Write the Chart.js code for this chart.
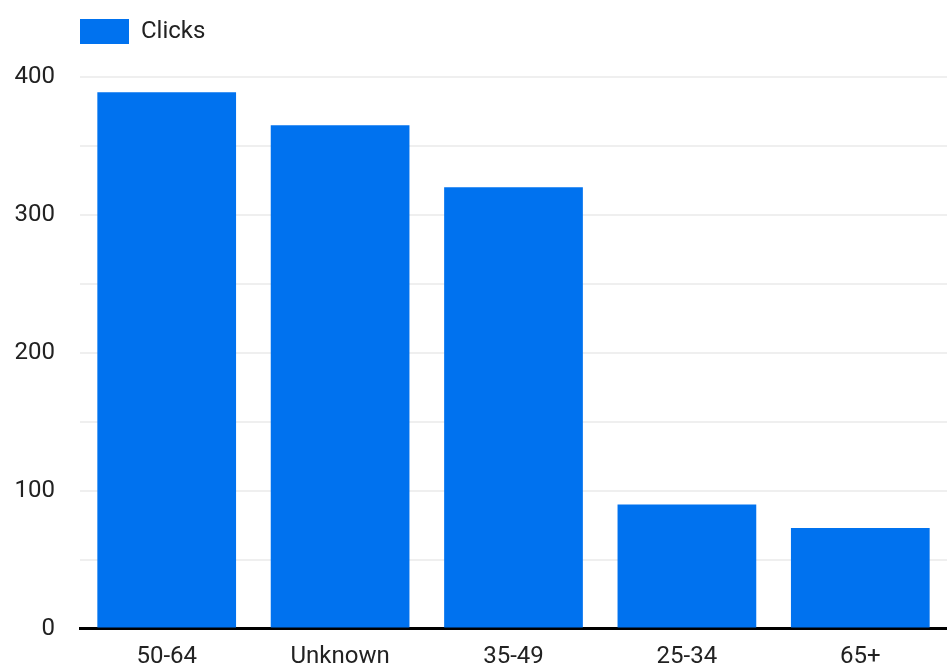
<!DOCTYPE html>
<html>
<head>
<meta charset="utf-8">
<script src="https://cdn.jsdelivr.net/npm/chart.js"></script>
<style>
  html, body { margin: 0; padding: 0; background: #fff; }
  canvas { display: block; }
</style>
</head>
<body>
<canvas id="chart" width="947" height="668"></canvas>
<script>
// data
const categories = ['50-64', 'Unknown', '35-49', '25-34', '65+'];
const clicks = [389, 365, 320, 90, 73];
const seriesName = 'Clicks';
const yTicksShown = [0, 100, 200, 300, 400];

// extra space under the legend (v4 has no legend afterFit option)
const legendGap = {
    id: 'legendGap',
    beforeLayout(chart) {
        const legend = chart.legend;
        if (!legend || legend._gapPatched) return;
        const fit = legend.fit;
        legend.fit = function () {
            fit.call(this);
            this.height += 23;
        };
        legend._gapPatched = true;
    }
};

const font = { family: 'Roboto', size: 24 };

new Chart(document.getElementById('chart'), {
    type: 'bar',
    data: {
        labels: categories,
        datasets: [{
            label: seriesName,
            data: clicks,
            backgroundColor: '#0072ef',
            borderWidth: 0,
            barPercentage: 0.8,
            categoryPercentage: 1
        }]
    },
    options: {
        responsive: false,
        animation: false,
        layout: { padding: { top: 19, left: 0, right: 0, bottom: 0 } },
        plugins: {
            legend: {
                position: 'top',
                align: 'start',
                fullSize: false,
                labels: {
                    boxWidth: 49,
                    boxHeight: 25,
                    padding: 0,
                    color: '#222',
                    font: font
                }
            },
            tooltip: { enabled: false }
        },
        scales: {
            x: {
                afterFit(scale) { scale.height = 37; },
                grid: { display: false, drawTicks: false },
                border: { display: true, color: '#000', width: 3 },
                ticks: {
                    color: '#222',
                    padding: 14,
                    font: font
                }
            },
            y: {
                min: 0,
                max: 400,
                afterFit(scale) { scale.width = 80; },
                grid: { color: '#efefef', lineWidth: 2, drawTicks: false },
                border: { display: false },
                ticks: {
                    stepSize: 50,
                    padding: 25,
                    color: '#222',
                    font: font,
                    callback: (v) => yTicksShown.includes(v) ? v : ''
                }
            }
        }
    },
    plugins: [legendGap]
});
</script>
</body>
</html>
